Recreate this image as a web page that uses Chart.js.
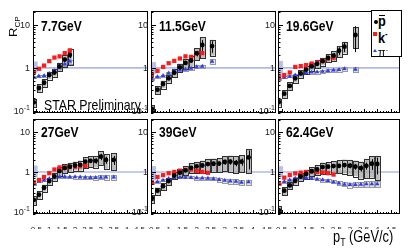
<!DOCTYPE html>
<html>
<head>
<meta charset="utf-8">
<script src="https://cdn.jsdelivr.net/npm/chart.js@4.4.0/dist/chart.umd.min.js"></script>
<style>
body { margin: 0; background: #fff; width: 415px; height: 249px; overflow: hidden; position: relative; font-family: "Liberation Sans", Arial, sans-serif; }
canvas { position: absolute; }
.en { position: absolute; font-weight: bold; font-size: 14px; line-height: 14px; white-space: nowrap; transform: scaleX(0.86); transform-origin: left top; }
.txt { position: absolute; white-space: nowrap; transform-origin: left top; }
#leg { position: absolute; left: 371px; top: 10px; width: 31px; height: 47px; border: 1px solid #000; box-sizing: border-box; background: #fff; }
#leg div, #leg span { position: absolute; }
</style>
</head>
<body>

<div class="txt" style="left:8px; top:37px; font-size:13px; line-height:13px; transform: rotate(-90deg) scaleY(0.82);">R<sub style="font-size:8px;">CP</sub></div>
<div class="txt" style="left:44px; top:97px; font-size:15px; line-height:15px; transform: scaleX(0.82);">STAR Preliminary</div>
<div class="txt" style="left:333px; top:229px; font-size:16px; line-height:16px; transform: scaleX(0.8);">p<sub style="font-size:11px;">T</sub> (GeV/c)</div>

<div id="leg">
    <div style="left:1.5px; top:8.5px; width:4.5px; height:4.5px; border-radius:50%; background:#000;"></div>
    <div style="left:6.5px; top:4px; width:6px; height:1.3px; background:#000;"></div>
    <span style="left:6px; top:1.5px; font-size:15px; line-height:15px; font-weight:bold; transform:scaleX(0.85); transform-origin:left top;">p</span>
    <div style="left:0.5px; top:20.5px; width:4.2px; height:4.2px; background:#ff1a1a;"></div>
    <span style="left:5.5px; top:16px; font-size:15px; line-height:15px; font-weight:bold; transform:scaleX(0.85); transform-origin:left top;">k<sup style="font-size:9px;">-</sup></span>
    <div style="left:0.5px; top:37.5px; width:0; height:0; border-left:2px solid transparent; border-right:2px solid transparent; border-bottom:3.5px solid #2d3cff;"></div>
    <span style="left:6px; top:32px; font-size:13px; line-height:13px; transform:scaleX(0.85); transform-origin:left top;">π<sup style="font-size:8px;">-</sup></span>
</div>

<script>
var energies = ["7.7GeV", "11.5GeV", "19.6GeV", "27GeV", "39GeV", "62.4GeV"];

var pbarPt = [
    [0.4, 0.6, 0.8, 1.0, 1.2, 1.4, 1.6, 1.8],
    [0.4, 0.6, 0.8, 1.0, 1.2, 1.4, 1.6, 1.8, 2.0, 2.2, 2.55],
    [0.4, 0.6, 0.8, 1.0, 1.2, 1.4, 1.6, 1.8, 2.0, 2.2, 2.4, 2.6, 2.8, 3.2],
    [0.4, 0.6, 0.8, 1.0, 1.2, 1.4, 1.6, 1.8, 2.0, 2.2, 2.4, 2.6, 2.8, 3.0, 3.2, 3.5],
    [0.4, 0.6, 0.8, 1.0, 1.2, 1.4, 1.6, 1.8, 2.0, 2.2, 2.4, 2.6, 2.8, 3.0, 3.2, 3.4, 3.6, 3.85],
    [0.4, 0.6, 0.8, 1.0, 1.2, 1.4, 1.6, 1.8, 2.0, 2.2, 2.4, 2.6, 2.8, 3.0, 3.2, 3.4, 3.6, 3.8, 4.0]
];
var pbarRcp = [
    [0.158, 0.34, 0.45, 0.68, 0.78, 1.08, 1.56, 1.99],
    [0.111, 0.31, 0.42, 0.57, 0.77, 1.03, 1.3, 1.48, 2.17, 3.4, 3.2],
    [0.16, 0.25, 0.38, 0.57, 0.74, 0.91, 1.08, 1.24, 1.43, 1.7, 1.92, 2.5, 3.1, 5.8],
    [0.2, 0.27, 0.4, 0.59, 0.77, 1.05, 1.25, 1.35, 1.45, 1.5, 1.8, 1.9, 1.9, 2.4, 2.0, 2.0],
    [0.22, 0.34, 0.44, 0.59, 0.82, 0.96, 1.1, 1.27, 1.38, 1.45, 1.57, 1.6, 1.62, 1.77, 1.8, 1.69, 1.8, 2.3],
    [0.11, 0.34, 0.46, 0.6, 0.77, 0.89, 1.04, 1.15, 1.32, 1.35, 1.4, 1.42, 1.48, 1.43, 1.35, 1.25, 1.42, 1.6, 1.58]
];
// relative systematic (boxes) and statistical (bars) errors
var pbarSys = [
    [0.22, 0.22, 0.2, 0.2, 0.2, 0.22, 0.3, 0.4],
    [0.2, 0.2, 0.2, 0.2, 0.2, 0.22, 0.25, 0.28, 0.3, 0.5, 0.4],
    [0.2, 0.2, 0.2, 0.2, 0.2, 0.2, 0.2, 0.2, 0.2, 0.22, 0.25, 0.28, 0.3, 0.5],
    [0.25, 0.22, 0.2, 0.2, 0.22, 0.25, 0.25, 0.25, 0.25, 0.28, 0.3, 0.3, 0.32, 0.38, 0.4, 0.45],
    [0.22, 0.2, 0.2, 0.2, 0.2, 0.22, 0.25, 0.28, 0.3, 0.32, 0.35, 0.35, 0.38, 0.4, 0.42, 0.45, 0.45, 0.6],
    [0.25, 0.22, 0.2, 0.2, 0.22, 0.24, 0.26, 0.28, 0.3, 0.32, 0.34, 0.36, 0.38, 0.4, 0.42, 0.45, 0.5, 0.55, 0.6]
];
var pbarStat = [
    [0.03, 0.03, 0.04, 0.05, 0.06, 0.08, 0.1, 0.15],
    [0.03, 0.03, 0.03, 0.04, 0.05, 0.06, 0.08, 0.1, 0.15, 0.3, 0.3],
    [0.02, 0.02, 0.03, 0.03, 0.04, 0.05, 0.06, 0.08, 0.1, 0.12, 0.15, 0.2, 0.25, 0.6],
    [0.02, 0.02, 0.02, 0.03, 0.03, 0.04, 0.05, 0.06, 0.07, 0.08, 0.1, 0.12, 0.15, 0.18, 0.2, 0.25],
    [0.02, 0.02, 0.02, 0.02, 0.03, 0.03, 0.04, 0.05, 0.06, 0.07, 0.08, 0.1, 0.12, 0.14, 0.16, 0.18, 0.2, 0.5],
    [0.02, 0.02, 0.02, 0.02, 0.03, 0.03, 0.04, 0.05, 0.06, 0.07, 0.08, 0.1, 0.12, 0.14, 0.16, 0.18, 0.2, 0.3, 0.45]
];

var kPt = [
    [0.4, 0.6, 0.8, 1.0, 1.2, 1.4, 1.6, 1.8],
    [0.4, 0.6, 0.8, 1.0, 1.2, 1.4, 1.6, 1.8, 2.0, 2.2],
    [0.4, 0.6, 0.8, 1.0, 1.2, 1.4, 1.6, 1.8, 2.0, 2.2, 2.4],
    [0.4, 0.6, 0.8, 1.0, 1.2, 1.4, 1.6, 1.8, 2.0, 2.2, 2.4],
    [0.4, 0.6, 0.8, 1.0, 1.2, 1.4, 1.6, 1.8, 2.0, 2.2, 2.4],
    [0.4, 0.6, 0.8, 1.0, 1.2, 1.4, 1.6, 1.8, 2.0, 2.2, 2.4]
];
var kRcp = [
    [0.80, 0.95, 1.13, 1.43, 1.73, 1.85, 2.2, 2.55],
    [0.68, 0.85, 1.05, 1.28, 1.45, 1.65, 1.85, 1.8, 2.2, 2.2],
    [0.6, 0.68, 0.78, 1.05, 1.1, 1.16, 1.26, 1.33, 1.45, 1.65, 1.72],
    [0.55, 0.63, 0.75, 0.93, 1.15, 1.3, 1.3, 1.32, 1.35, 1.38, 1.42],
    [0.55, 0.75, 0.83, 0.93, 1.0, 1.08, 1.13, 1.15, 1.06, 1.0, 0.95],
    [0.52, 0.72, 0.84, 0.92, 0.96, 1.0, 1.03, 1.0, 0.97, 0.93, 0.86]
];

var piPt = pbarPt;
var piRcp = [
    [0.6, 0.64, 0.66, 0.73, 0.86, 1.02, 1.22, 1.42],
    [0.55, 0.62, 0.66, 0.75, 0.84, 0.88, 0.92, 0.97, 1.05, 1.08, 1.4],
    [0.55, 0.6, 0.63, 0.68, 0.72, 0.76, 0.79, 0.8, 0.82, 0.85, 0.88, 0.9, 0.95, 0.92],
    [0.5, 0.58, 0.62, 0.68, 0.74, 0.76, 0.76, 0.75, 0.75, 0.74, 0.73, 0.72, 0.72, 0.73, 0.74, 0.74],
    [0.53, 0.57, 0.62, 0.68, 0.72, 0.73, 0.73, 0.72, 0.71, 0.7, 0.69, 0.67, 0.64, 0.61, 0.59, 0.58, 0.55, 0.56],
    [0.5, 0.57, 0.63, 0.69, 0.72, 0.71, 0.68, 0.66, 0.63, 0.6, 0.56, 0.52, 0.49, 0.48, 0.48, 0.49, 0.5, 0.5, 0.5]
];
var piSys = [
    [0.06, 0.06, 0.06, 0.06, 0.07, 0.08, 0.09, 0.1],
    [0.06, 0.06, 0.06, 0.06, 0.06, 0.07, 0.07, 0.08, 0.08, 0.09, 0.12],
    [0.06, 0.06, 0.06, 0.06, 0.06, 0.06, 0.07, 0.07, 0.08, 0.08, 0.09, 0.1, 0.11, 0.14],
    [0.06, 0.06, 0.06, 0.06, 0.06, 0.06, 0.07, 0.07, 0.08, 0.08, 0.09, 0.1, 0.11, 0.12, 0.13, 0.14],
    [0.06, 0.06, 0.06, 0.06, 0.06, 0.06, 0.07, 0.07, 0.08, 0.08, 0.09, 0.1, 0.11, 0.12, 0.13, 0.14, 0.15, 0.15],
    [0.06, 0.06, 0.06, 0.06, 0.06, 0.06, 0.07, 0.07, 0.08, 0.09, 0.1, 0.11, 0.12, 0.13, 0.14, 0.15, 0.16, 0.17, 0.18]
];

// Ncoll normalisation uncertainty band drawn at low pT
var normLo = [0.77, 0.71, 0.62, 0.73, 0.63, 0.73];
var normHi = [1.4, 1.36, 1.45, 1.45, 1.4, 1.4];
var normPt = [0.38, 0.55];

var xTicks = [0.5, 1, 1.5, 2, 2.5, 3, 3.5, 4, 4.5];
var yTicks = [0.1, 1, 10];

var X_MIN = 0.37, X_MAX = 4.83, Y_MIN = 0.089, Y_MAX = 21;
var frameX = [[33, 150], [151, 278], [278, 402]];
var frameY = [[9, 115], [117, 214]];
var tickFont = '"Liberation Sans", Arial, sans-serif';

function pts(xs, ys) {
    var out = [];
    for (var i = 0; i < xs.length; i++) out.push({ x: xs[i], y: ys[i] });
    return out;
}

function drawBoxes(ctx, xs, ys, p, v, s, fill, line) {
    for (var i = 0; i < p.length; i++) {
        var x0 = xs.getPixelForValue(p[i] - 0.09), x1 = xs.getPixelForValue(p[i] + 0.09);
        var y0 = ys.getPixelForValue(v[i] * (1 + s[i])), y1 = ys.getPixelForValue(v[i] * (1 - s[i]));
        ctx.fillStyle = fill;
        ctx.fillRect(x0, y0, x1 - x0, y1 - y0);
        ctx.strokeStyle = line;
        ctx.lineWidth = 1;
        ctx.strokeRect(Math.round(x0) + 0.5, Math.round(y0) + 0.5, Math.round(x1 - x0), Math.round(y1 - y0));
    }
}

// y labels drawn by hand so that 10^-1 gets a real superscript
function drawYLabels(ctx, ys, a) {
    ctx.fillStyle = '#222';
    ctx.textBaseline = 'middle';
    ctx.textAlign = 'right';
    for (var t = 0; t < yTicks.length; t++) {
        var v = yTicks[t];
        var y = ys.getPixelForValue(v);
        var xr = a.left - 3;
        if (v < 1) {
            ctx.font = '7px ' + tickFont;
            ctx.fillText("-1", xr, y - 3);
            xr -= ctx.measureText("-1").width;
            ctx.font = '9px ' + tickFont;
            ctx.fillText("10", xr, y + 0.5);
        } else {
            ctx.font = '9px ' + tickFont;
            ctx.fillText(String(v), xr, y + 0.5);
        }
    }
}

var decor = {
    id: 'decor',
    beforeDatasetsDraw: function (chart, args, opts) {
        var i = opts.panel, ctx = chart.ctx, xs = chart.scales.x, ys = chart.scales.y, a = chart.chartArea;
        ctx.save();
        ctx.beginPath();
        ctx.rect(a.left, a.top, a.right - a.left, a.bottom - a.top);
        ctx.clip();
        var nx0 = xs.getPixelForValue(normPt[0]), nx1 = xs.getPixelForValue(normPt[1]);
        var ny0 = ys.getPixelForValue(normHi[i]), ny1 = ys.getPixelForValue(normLo[i]);
        ctx.fillStyle = 'rgba(128,138,222,0.55)';
        ctx.fillRect(nx0, ny0, nx1 - nx0, ny1 - ny0);
        var yu = ys.getPixelForValue(1);
        ctx.strokeStyle = '#b3b8e8';
        ctx.lineWidth = 1.6;
        ctx.beginPath();
        ctx.moveTo(a.left, yu);
        ctx.lineTo(a.right, yu);
        ctx.stroke();
        drawBoxes(ctx, xs, ys, piPt[i], piRcp[i], piSys[i], 'rgba(200,200,200,0.6)', '#9a9a9a');
        drawBoxes(ctx, xs, ys, pbarPt[i], pbarRcp[i], pbarSys[i], 'rgba(165,165,165,0.75)', '#303030');
        ctx.strokeStyle = '#000';
        ctx.lineWidth = 1;
        for (var k = 0; k < pbarPt[i].length; k++) {
            var x = Math.round(xs.getPixelForValue(pbarPt[i][k])) + 0.5;
            var v = pbarRcp[i][k], e = pbarStat[i][k];
            ctx.beginPath();
            ctx.moveTo(x, ys.getPixelForValue(v * (1 + e)));
            ctx.lineTo(x, ys.getPixelForValue(v * (1 - e)));
            ctx.stroke();
        }
        ctx.restore();
    },
    afterDraw: function (chart) {
        var ctx = chart.ctx, xs = chart.scales.x, ys = chart.scales.y, a = chart.chartArea;
        ctx.save();
        ctx.strokeStyle = '#000';
        ctx.lineWidth = 1;
        ctx.beginPath();
        for (var t = 4; t <= 48; t++) {
            var v = t / 10;
            if (v < X_MIN || v > X_MAX) continue;
            var x = Math.round(xs.getPixelForValue(v)) + 0.5;
            var len = (t % 5 == 0) ? 4 : 2;
            ctx.moveTo(x, a.bottom);
            ctx.lineTo(x, a.bottom - len);
        }
        var decades = [0.01, 0.1, 1, 10];
        for (var d = 0; d < decades.length; d++) {
            for (var m = 1; m <= 9; m++) {
                var yv = decades[d] * m;
                if (yv < Y_MIN || yv > Y_MAX) continue;
                var y = Math.round(ys.getPixelForValue(yv)) + 0.5;
                ctx.moveTo(a.left, y);
                ctx.lineTo(a.left + (m == 1 ? 5 : 2.5), y);
            }
        }
        ctx.stroke();
        ctx.strokeRect(Math.round(a.left) + 0.5, Math.round(a.top) + 0.5, Math.round(a.right - a.left) - 1, Math.round(a.bottom - a.top) - 1);
        drawYLabels(ctx, ys, a);
        ctx.restore();
    }
};

function makePanel(i) {
    var row = Math.floor(i / 3), col = i % 3;
    var fx = frameX[col], fy = frameY[row];
    var LW = 24, TP = 2, RP = 2;
    var BH = row == 1 ? 15 : 0, BP = row == 1 ? 0 : 2;
    var w = LW + (fx[1] - fx[0]) + RP, h = TP + (fy[1] - fy[0]) + BH + BP;
    var cv = document.createElement("canvas");
    cv.width = w;
    cv.height = h;
    cv.style.left = (fx[0] - LW) + "px";
    cv.style.top = (fy[0] - TP) + "px";
    cv.style.width = w + "px";
    cv.style.height = h + "px";
    document.body.insertBefore(cv, document.body.firstChild);

    new Chart(cv, {
        type: 'scatter',
        data: {
            datasets: [
                { label: 'pbar', data: pts(pbarPt[i], pbarRcp[i]), pointStyle: 'circle', pointRadius: 2.4, backgroundColor: '#000', borderColor: '#000', borderWidth: 0 },
                { label: 'k-', data: pts(kPt[i], kRcp[i]), pointStyle: 'rect', pointRadius: 3, backgroundColor: '#ff1a1a', borderColor: '#ff1a1a', borderWidth: 0 },
                { label: 'pi-', data: pts(piPt[i], piRcp[i]), pointStyle: 'triangle', pointRadius: 2.6, backgroundColor: '#2d3cff', borderColor: '#2d3cff', borderWidth: 0 }
            ]
        },
        options: {
            responsive: false,
            animation: false,
            devicePixelRatio: 1,
            layout: { padding: { top: TP, right: RP, bottom: BP, left: 0 } },
            plugins: { legend: { display: false }, tooltip: { enabled: false }, decor: { panel: i } },
            scales: {
                x: {
                    type: 'linear', min: X_MIN, max: X_MAX,
                    afterFit: function (s) { s.height = BH; },
                    afterBuildTicks: function (s) { s.ticks = xTicks.map(function (v) { return { value: v }; }); },
                    grid: { display: false }, border: { display: false },
                    ticks: { display: row == 1, autoSkip: false, maxRotation: 0, padding: 3, color: '#222', font: { size: 8, family: tickFont }, callback: function (v) { return String(v); } }
                },
                y: {
                    type: 'logarithmic', min: Y_MIN, max: Y_MAX,
                    afterFit: function (s) { s.width = LW; },
                    afterBuildTicks: function (s) { s.ticks = yTicks.map(function (v) { return { value: v }; }); },
                    grid: { display: false }, border: { display: false },
                    ticks: { display: false }
                }
            }
        },
        plugins: [decor]
    });
}

for (var i = 5; i >= 0; i--) makePanel(i);

var lblPos = [[41, 18.5], [159, 18.5], [286, 18.5], [41, 124.5], [159, 124.5], [286, 124.5]];
for (var j = 0; j < energies.length; j++) {
    var d = document.createElement("div");
    d.className = "en";
    d.style.left = lblPos[j][0] + "px";
    d.style.top = lblPos[j][1] + "px";
    d.textContent = energies[j];
    document.body.appendChild(d);
}
</script>
</body>
</html>
